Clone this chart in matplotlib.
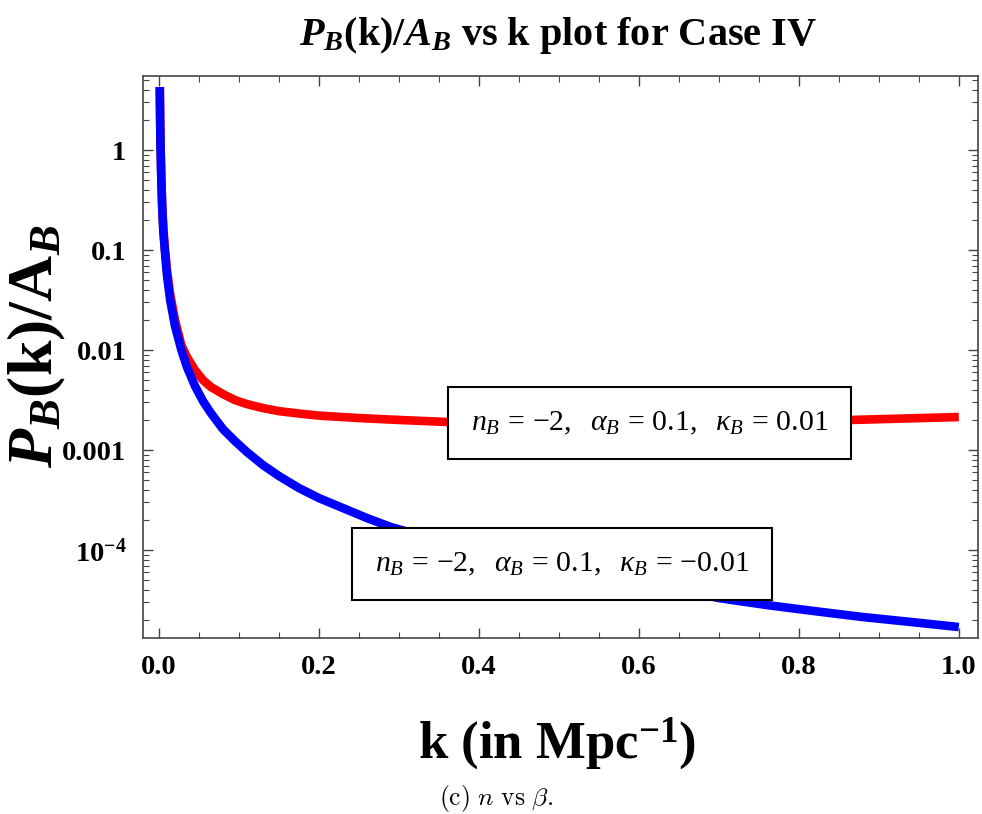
import matplotlib
matplotlib.use("Agg")
import matplotlib.pyplot as plt
from matplotlib.ticker import FixedLocator, FixedFormatter, MultipleLocator, LogLocator

plt.rcParams["font.family"] = "Liberation Serif"
plt.rcParams["mathtext.fontset"] = "custom"
plt.rcParams["mathtext.rm"] = "Liberation Serif"
plt.rcParams["mathtext.it"] = "Liberation Serif:italic"
plt.rcParams["mathtext.bf"] = "Liberation Serif:bold"
plt.rcParams["mathtext.bfit"] = "Liberation Serif:bold:italic"

# k in Mpc^-1, P_B(k)/A_B for kappa_B = -0.01 (blue)
k_blue = [0.001, 0.0015, 0.002, 0.003, 0.004, 0.0055, 0.0075, 0.01, 0.014, 0.02,
          0.028, 0.035, 0.045, 0.055, 0.065, 0.08, 0.095, 0.11, 0.13, 0.15,
          0.175, 0.2, 0.23, 0.26, 0.29, 0.33, 0.37, 0.42, 0.47, 0.52,
          0.58, 0.64, 0.7, 0.76, 0.82, 0.88, 0.94, 1.0]
p_blue = [4.27, 1.905, 1.047, 0.479, 0.269, 0.151, 0.0955, 0.0562, 0.0316, 0.0174,
          0.01, 6.76e-3, 4.37e-3, 3.09e-3, 2.34e-3, 1.62e-3, 1.23e-3, 9.55e-4, 7.08e-4, 5.5e-4,
          4.17e-4, 3.31e-4, 2.63e-4, 2.09e-4, 1.70e-4, 1.38e-4, 1.15e-4, 9.33e-5, 7.59e-5, 6.31e-5,
          5.01e-5, 4.17e-5, 3.31e-5, 2.82e-5, 2.45e-5, 2.14e-5, 1.91e-5, 1.70e-5]

# kappa_B = +0.01 (red)
k_red = [0.001, 0.0015, 0.002, 0.003, 0.004, 0.0055, 0.0075, 0.01, 0.014, 0.02,
         0.028, 0.035, 0.045, 0.055, 0.065, 0.08, 0.095, 0.11, 0.13, 0.15,
         0.175, 0.2, 0.25, 0.3, 0.36, 0.45, 0.55, 0.65, 0.75, 0.865, 1.0]
p_red = [4.27, 1.95, 1.072, 0.501, 0.282, 0.162, 0.102, 0.0631, 0.0363, 0.02,
         0.0112, 8.51e-3, 6.31e-3, 5.01e-3, 4.27e-3, 3.63e-3, 3.16e-3, 2.88e-3, 2.63e-3, 2.45e-3,
         2.32e-3, 2.21e-3, 2.09e-3, 2.0e-3, 1.91e-3, 1.84e-3, 1.82e-3, 1.84e-3, 1.91e-3, 2.0e-3, 2.14e-3]

y_ticks = [1, 0.1, 0.01, 0.001, 1e-4]
y_tick_labels = ["1", "0.1", "0.01", "0.001", r"$\mathbf{10^{-4}}$"]
x_ticks = [0.0, 0.2, 0.4, 0.6, 0.8, 1.0]

label_red = r"$n_B\,=\,{-}2,\ \ \alpha_B\,=\,0.1,\ \ \kappa_B\,=\,0.01$"
label_blue = r"$n_B\,=\,{-}2,\ \ \alpha_B\,=\,0.1,\ \ \kappa_B\,=\,{-}0.01$"

fig = plt.figure(figsize=(9.82, 8.14), dpi=100)
ax = fig.add_axes([0.1456, 0.2162, 0.8503, 0.6904])

ax.plot(k_red, p_red, color="#ff0000", lw=6.2, solid_capstyle="butt", zorder=2)
ax.plot(k_blue, p_blue, color="#0000ff", lw=6.2, solid_capstyle="butt", zorder=3)

ax.set_yscale("log")
ax.set_xlim(-0.02, 1.024)
ax.set_ylim(1.32e-5, 5.5)

ax.xaxis.set_major_locator(FixedLocator(x_ticks))
ax.xaxis.set_minor_locator(MultipleLocator(0.05))
ax.yaxis.set_major_locator(FixedLocator(y_ticks))
ax.yaxis.set_major_formatter(FixedFormatter(y_tick_labels))
ax.yaxis.set_minor_locator(LogLocator(base=10, subs=range(2, 10), numticks=20))
ax.yaxis.set_minor_formatter(FixedFormatter([]))
ax.set_xticklabels(["%.1f" % t for t in x_ticks])

for lab in ax.get_xticklabels() + ax.get_yticklabels():
    lab.set_fontweight("bold")
    lab.set_fontsize(20.5)

ax.tick_params(which="both", direction="in", top=True, right=True, color="#444444")
ax.tick_params(which="major", length=7.5, width=1, pad=12)
ax.tick_params(which="minor", length=4, width=0.8)
for s in ax.spines.values():
    s.set_color("#444444")
    s.set_linewidth(1.2)

box = dict(boxstyle="square,pad=0.76", facecolor="white", edgecolor="black", lw=1.5)
ax.text(0.613, 1.86e-3, label_red, fontsize=21.5, ha="center", va="center",
        bbox=box, zorder=5)
ax.text(0.504, 7.24e-5, label_blue, fontsize=21.5, ha="center", va="center",
        bbox=box, zorder=5)

fig.text(0.568, 0.957, r"$\mathbfit{P}_{\mathbfit{B}}$(k)/$\mathbfit{A}_{\mathbfit{B}}$ vs k plot for Case IV",
         fontsize=29, fontweight="bold", ha="center", va="center")
fig.text(0.038, 0.574, r"$\mathbfit{P}_{\mathbfit{B}}\mathbf{(k)/A}_{\mathbfit{B}}$",
         fontsize=46, rotation=90, ha="center", va="center")
fig.text(0.567, 0.086, r"k (in Mpc$^{\mathbf{-1}}$)", fontsize=38, fontweight="bold",
         ha="center", va="center")
fig.text(0.505, 0.011, r"$\mathrm{(c)}\ n\ \mathrm{vs}\ \beta.$", fontsize=18.5,
         math_fontfamily="cm", ha="center", va="baseline")

fig.savefig("out.png", dpi=100, facecolor="white")
